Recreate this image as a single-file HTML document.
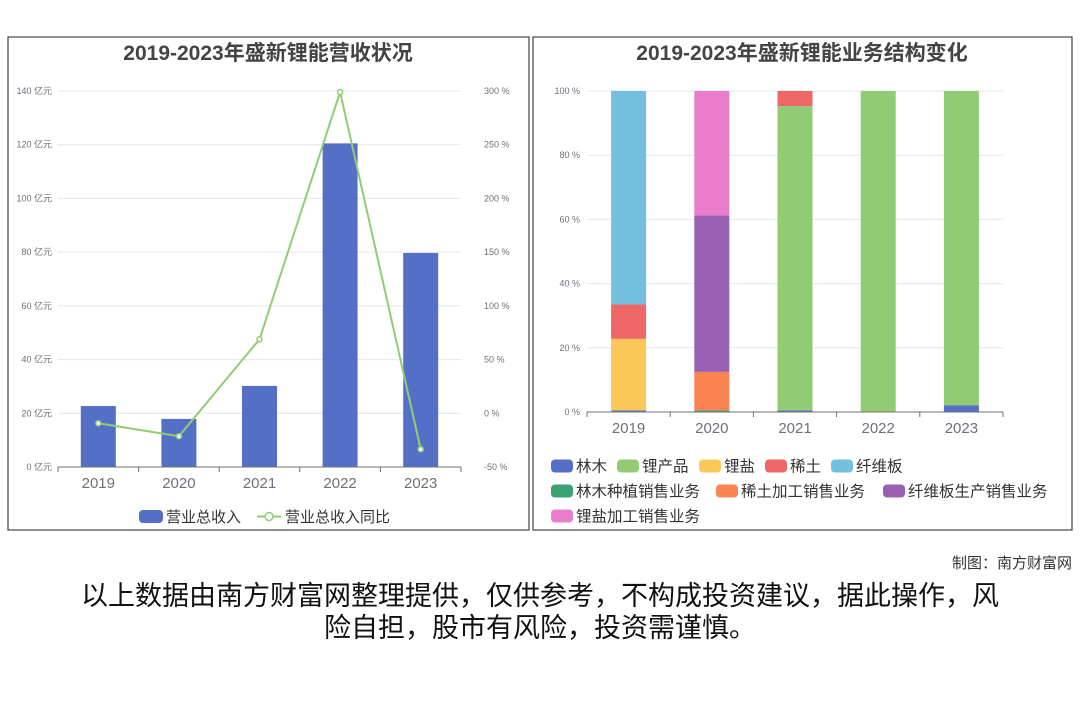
<!DOCTYPE html>
<html><head><meta charset="utf-8">
<style>
body{margin:0;width:1080px;height:720px;background:#fff;overflow:hidden;font-family:"Liberation Sans","Noto Sans CJK SC",sans-serif;}
svg text{font-family:"Liberation Sans","Noto Sans CJK SC",sans-serif;}
.disc{position:absolute;left:40px;width:1000px;top:580px;text-align:center;font-size:27px;line-height:32px;color:#111;}
</style></head><body>
<svg id="s" width="1080" height="720" style="position:absolute;left:0;top:0">
<rect x="8" y="37" width="521" height="493" fill="none" stroke="#444" stroke-width="1.2"/>
<rect x="533" y="37" width="539" height="493" fill="none" stroke="#444" stroke-width="1.2"/>
<text x="268" y="60" text-anchor="middle" font-size="21" font-weight="bold" fill="#444">2019-2023年盛新锂能营收状况</text>
<text x="802" y="60" text-anchor="middle" font-size="21" font-weight="bold" fill="#444">2019-2023年盛新锂能业务结构变化</text>
<g id="L"></g><g id="R"></g>
<text x="1072" y="568" text-anchor="end" font-size="15" fill="#333">制图：南方财富网</text>
</svg>
<div class="disc">以上数据由南方财富网整理提供，仅供参考，不构成投资建议，据此操作，风<br>险自担，股市有风险，投资需谨慎。</div>
<script>
const years=["2019","2020","2021","2022","2023"];
const revenue=[22.7,17.9,30.2,120.5,79.7];
const growth=[-9.3,-21.4,68.9,299,-33.5];
const leftTicks=[0,20,40,60,80,100,120,140];
const rightTicks=[-50,0,50,100,150,200,250,300];
const seriesNames=["林木","锂产品","锂盐","稀土","纤维板","林木种植销售业务","稀土加工销售业务","纤维板生产销售业务","锂盐加工销售业务"];
const seriesColors=["#5470c6","#91cc75","#fac858","#ee6666","#73c0de","#3ba272","#fc8452","#9a60b4","#ea7ccc"];
const s_linmu=[0.5,0,0.5,0,2.1];
const s_lichanpin=[0,0,94.8,100,97.9];
const s_liyan=[22.3,0,0,0,0];
const s_xitu=[10.7,0,4.7,0,0];
const s_xianweiban=[66.5,0,0,0,0];
const s_linmuzz=[0,0.5,0,0,0];
const s_xitujg=[0,12.0,0,0,0];
const s_xwbsc=[0,48.7,0,0,0];
const s_liyanjg=[0,38.8,0,0,0];
const stackSeries=[s_linmu,s_lichanpin,s_liyan,s_xitu,s_xianweiban,s_linmuzz,s_xitujg,s_xwbsc,s_liyanjg];
const pctTicks=[0,20,40,60,80,100];
const NS="http://www.w3.org/2000/svg";
function mk(p,t,a){const e=document.createElementNS(NS,t);for(const k in a)e.setAttribute(k,a[k]);p.appendChild(e);return e;}
// LEFT
const L=document.getElementById('L');
const lx0=58,lx1=461,ly0=467,ly1=91;
const bw=(lx1-lx0)/years.length;
const yL=v=>ly0-(v-0)/140*(ly0-ly1);
const yR=v=>ly0-(v+50)/350*(ly0-ly1);
const xL=i=>lx0+bw*(i+0.5);
leftTicks.forEach((t,i)=>{
 if(t>0){const g=mk(L,'line',{x1:lx0,x2:lx1,y1:yL(t),y2:yL(t),stroke:'#e0e6f1'});}
 const tx=mk(L,'text',{x:52,y:yL(t)+3,'text-anchor':'end','font-size':9,fill:'#6e7079'});tx.textContent=t+' 亿元';
 
});
rightTicks.forEach(t=>{const tx=mk(L,'text',{x:484,y:yR(t)+3,'font-size':9,fill:'#6e7079'});tx.textContent=t+' %';
 });
revenue.forEach((v,i)=>{const r=mk(L,'rect',{x:xL(i)-17.5,y:yL(v),width:35,height:ly0-yL(v),fill:'#5470c6'});
 });
const ax=mk(L,'line',{x1:lx0,x2:lx1,y1:ly0,y2:ly0,stroke:'#6e7079'});
for(let i=0;i<=years.length;i++)mk(L,'line',{x1:lx0+bw*i,x2:lx0+bw*i,y1:ly0,y2:ly0+5,stroke:'#6e7079'});
years.forEach((y,i)=>{const t=mk(L,'text',{x:xL(i),y:488,'text-anchor':'middle','font-size':15,fill:'#6e7079'});t.textContent=y;
 });
const pl=mk(L,'polyline',{points:growth.map((g,i)=>xL(i)+','+yR(g)).join(' '),fill:'none',stroke:'#91cc75','stroke-width':2});

growth.forEach((g,i)=>{const c=mk(L,'circle',{cx:xL(i),cy:yR(g),r:2.5,fill:'#fff',stroke:'#91cc75','stroke-width':1.5});
 });
let lg=mk(L,'rect',{x:139,y:510,width:24,height:13,rx:4,fill:'#5470c6'});
let lt=mk(L,'text',{x:166,y:522,'font-size':15,fill:'#333'});lt.textContent='营业总收入';
mk(L,'line',{x1:257,x2:281,y1:516.5,y2:516.5,stroke:'#91cc75','stroke-width':2});
mk(L,'circle',{cx:269,cy:516.5,r:4,fill:'#fff',stroke:'#91cc75','stroke-width':1.5});
lt=mk(L,'text',{x:285,y:522,'font-size':15,fill:'#333'});lt.textContent='营业总收入同比';
// RIGHT
const R=document.getElementById('R');
const rx0=587,rx1=1003,ry0=412,ry1=91;
const rbw=(rx1-rx0)/years.length;
const yP=v=>ry0-v/100*(ry0-ry1);
const xP=i=>rx0+rbw*(i+0.5);
pctTicks.forEach(t=>{
 if(t>0){const g=mk(R,'line',{x1:rx0,x2:rx1,y1:yP(t),y2:yP(t),stroke:'#e0e6f1'});}
 const tx=mk(R,'text',{x:580,y:yP(t)+3,'text-anchor':'end','font-size':9,fill:'#6e7079'});tx.textContent=t+' %';
 
});
years.forEach((y,i)=>{let acc=0;stackSeries.forEach((s,k)=>{const v=s[i];if(v<=0)return;
 const r=mk(R,'rect',{x:xP(i)-17.5,y:yP(acc+v),width:35,height:yP(acc)-yP(acc+v),fill:seriesColors[k]});
 acc+=v;});});
const ax2=mk(R,'line',{x1:rx0,x2:rx1,y1:ry0,y2:ry0,stroke:'#6e7079'});
for(let i=0;i<=years.length;i++)mk(R,'line',{x1:rx0+rbw*i,x2:rx0+rbw*i,y1:ry0,y2:ry0+5,stroke:'#6e7079'});
years.forEach((y,i)=>{const t=mk(R,'text',{x:xP(i),y:433,'text-anchor':'middle','font-size':15,fill:'#6e7079'});t.textContent=y;
 });
const legPos=[[551,466],[617,466],[699,466],[765,466],[831,466],[551,491],[716,491],[883,491],[551,516]];
seriesNames.forEach((n,k)=>{const [x,y]=legPos[k];
 const r=mk(R,'rect',{x:x,y:y-6.5,width:22,height:13,rx:4,fill:seriesColors[k]});
 const t=mk(R,'text',{x:x+25,y:y+5.5,'font-size':15.5,fill:'#333'});t.textContent=n;});
</script>
</body></html>
